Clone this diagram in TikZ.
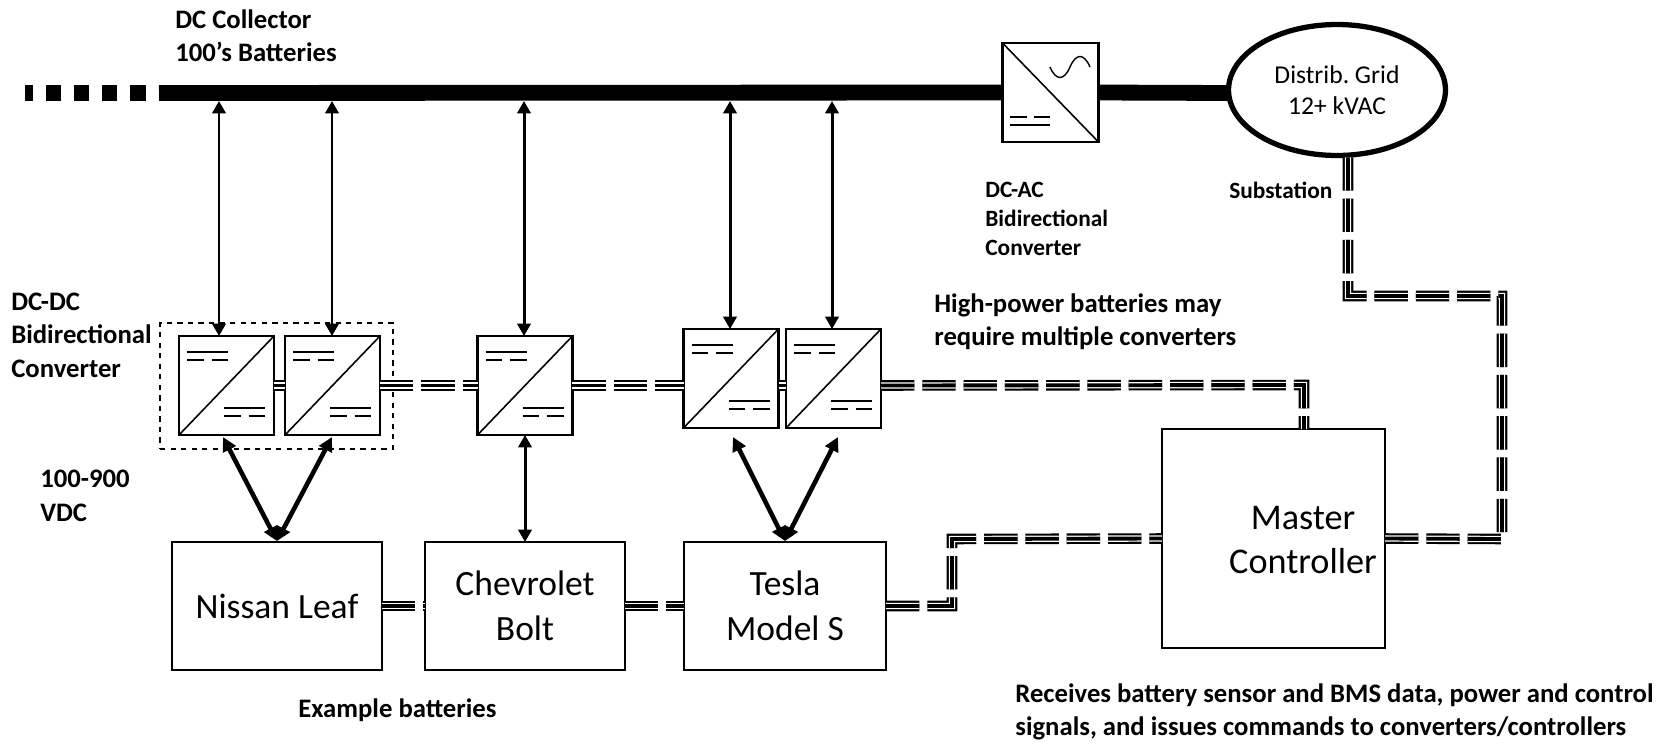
\documentclass[tikz,border=0pt]{standalone}
\usepackage{fontspec}
\setmainfont{Carlito}
\usepackage{tikz}
\usetikzlibrary{arrows.meta, positioning, shapes.geometric, calc}

\begin{document}
\frenchspacing
\begin{tikzpicture}[
    x=0.02cm, y=-0.02cm,
    dcdc/.style={rectangle, draw, line width=1.3pt, outer sep=0pt, fill=white, minimum width=1.9cm, minimum height=1.98cm,
        path picture={
            \draw[line width=0.9pt] (path picture bounding box.south west) -- (path picture bounding box.north east);
            \draw[line width=0.8pt] ([shift={(8,16)}]path picture bounding box.north west) -- +(41,0);
            \draw[line width=0.8pt, dash pattern=on 9.5pt off 4.5pt] ([shift={(8,24)}]path picture bounding box.north west) -- +(41,0);
            \draw[line width=0.8pt] ([shift={(45,72)}]path picture bounding box.north west) -- +(41,0);
            \draw[line width=0.8pt, dash pattern=on 9.5pt off 4.5pt] ([shift={(45,80)}]path picture bounding box.north west) -- +(41,0);
        }},
    block/.style={rectangle, draw, line width=1.3pt, outer sep=0pt, align=center, font=\fontsize{20.2}{25.5}\selectfont},
    note/.style={anchor=west, align=left, inner sep=0pt, font=\fontsize{15.2}{19}\selectfont\bfseries},
    smallnote/.style={note, font=\fontsize{13.3}{16.6}\selectfont\bfseries},
    bus/.style={line width=9pt},
    sigline/.style={line width=6pt, dash pattern=on 19pt off 4.5pt,
        postaction={draw=white, line width=3.6pt},
        postaction={draw=black, line width=2.2pt}},
    power/.style={{Triangle[length=7pt, width=7.5pt]}-{Triangle[length=7pt, width=7.5pt]}, line width=1.7pt},
    heavy/.style={{Triangle[length=8pt, width=8pt]}-{Triangle[length=8pt, width=8pt]}, line width=2.6pt}
]
    \useasboundingbox (0,0) rectangle (1673,747);

    % Converters
    \node[dcdc] (conv1) at (226.5,385.5) {};
    \node[dcdc] (conv2) at (332.5,385.5) {};
    \node[dcdc] (conv3) at (525,385.5) {};
    \node[dcdc] (conv4) at (731,378.5) {};
    \node[dcdc] (conv5) at (833.5,378.5) {};
    \node[rectangle, draw, dashed, line width=0.8pt, minimum width=4.66cm, minimum height=2.52cm] (group) at (276.5,386) {};

    % Batteries and controller
    \node[block, minimum width=4.2cm, minimum height=2.56cm] (leaf) at (277,606) {Nissan Leaf};
    \node[block, minimum width=4cm, minimum height=2.56cm] (bolt) at (525,606) {Chevrolet\\Bolt};
    \node[block, minimum width=4.04cm, minimum height=2.56cm] (tesla) at (785,606) {Tesla\\Model S};
    \node[block, minimum width=4.46cm, minimum height=4.38cm] (master) at (1273.5,538.5) {};
    \node[align=center, inner sep=0pt, font=\fontsize{20.6}{25.5}\selectfont] (mastertext) at (1303,540) {Master\\Controller};

    % Grid side
    \node[rectangle, draw, line width=1.3pt, outer sep=0pt, minimum width=1.92cm, minimum height=1.98cm] (inverter) at (1050.5,92.5) {};
    \draw[line width=0.9pt] (inverter.north west) -- (inverter.south east);
    \draw[line width=0.8pt] (1050,67) .. controls (1056,81) and (1064,81) .. (1070,67) .. controls (1076,53) and (1084,53) .. (1090,67);
    \draw[line width=0.8pt, dash pattern=on 9.5pt off 4pt] (1010,117) -- (1050,117);
    \draw[line width=0.8pt] (1010,125) -- (1050,125);
    \node[ellipse, draw, line width=3pt, outer sep=0pt, minimum width=4.34cm, minimum height=2.62cm, align=center, font=\fontsize{14.6}{18}\selectfont] (grid) at (1337,90) {Distrib. Grid\\12+ kVAC};

    % DC collector
    \coordinate (busdots) at (25,93);
    \coordinate (busleft) at (159,93);
    \coordinate (busA) at (219,101);
    \coordinate (busB) at (332,101);
    \coordinate (busC) at (524,101);
    \coordinate (busD) at (730,101);
    \coordinate (busE) at (832,101);
    \draw[bus, dash pattern=on 8.6pt off 7.4pt, dash phase=4pt] (busdots) -- (146,93);
    \draw[bus] (busleft) -- (inverter.west);
    \draw[bus] (inverter.east) -- (1227,93) coordinate (busend);

    % Power arrows
    \draw[power] (busA) -- (busA |- conv1.north);
    \draw[power] (busB) -- (busB |- conv2.north);
    \draw[power] (busC) -- (busC |- conv3.north);
    \draw[power] (busD) -- (busD |- conv4.north);
    \draw[power] (busE) -- (busE |- conv5.north);
    \coordinate (leaftip) at (277,541);
    \coordinate (teslatip) at (785,541);
    \draw[heavy] (leaftip) -- (223,437);
    \draw[heavy] (leaftip) -- (332,437);
    \draw[power] (bolt.north) -- (conv3.south);
    \draw[heavy] (teslatip) -- (733,437);
    \draw[heavy] (teslatip) -- (838,437);

    % Signal lines
    \draw[sigline] (conv1.east) -- (conv2.west);
    \draw[sigline] (conv2.east) -- (conv3.west);
    \draw[sigline] (conv3.east) -- (conv3.east -| conv4.west);
    \draw[sigline] (conv4.east |- conv3.east) -- (conv5.west |- conv3.east);
    \coordinate (sigA) at (1304,385);
    \draw[sigline] (conv5.east |- conv3.east) -- (sigA) -- (sigA |- master.north);
    \draw[sigline] (leaf.east) -- (bolt.west);
    \draw[sigline] (bolt.east) -- (tesla.west);
    \coordinate (sigB) at (952,606);
    \coordinate (sigC) at (952,539);
    \draw[sigline] (tesla.east) -- (sigB) -- (sigC) -- (master.west);
    \coordinate (sigD) at (1502,539);
    \coordinate (sigE) at (1502,296);
    \coordinate (sigF) at (1348,296);
    \draw[sigline] (master.east) -- (sigD) -- (sigE) -- (sigF) -- (sigF |- grid.south);

    % Labels
    \node[note] (collector) at (175,36) {DC Collector\\100's Batteries};
    \node[note] (dcdclabel) at (11,335) {DC-DC\\Bidirectional\\Converter};
    \node[note] (voltage) at (40,496) {100-900\\VDC};
    \node[smallnote] (dcaclabel) at (985,219) {DC-AC\\Bidirectional\\Converter};
    \node[smallnote] (substation) at (1229,190) {Substation};
    \node[note] (multiple) at (934,322) {High-power batteries may\\require multiple converters};
    \node[note] (examples) at (298,710) {Example batteries};
    \node[note] (receives) at (1015,712) {Receives battery sensor and BMS data, power and control\\signals, and issues commands to converters/controllers};
\end{tikzpicture}
\end{document}
